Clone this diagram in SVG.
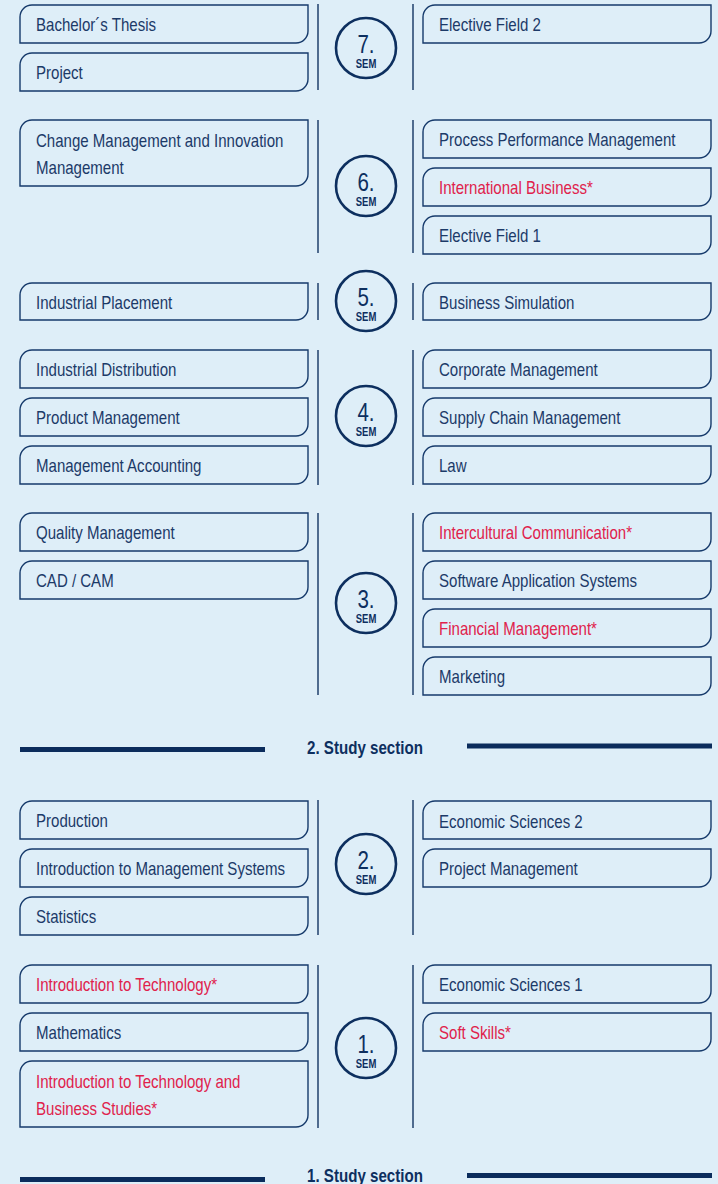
<svg xmlns="http://www.w3.org/2000/svg" width="718" height="1184" viewBox="0 0 718 1184">
<style>
.bx{fill:none;stroke:#163a6b;stroke-width:1.4}
.t{font-family:"Liberation Sans",Arial,sans-serif;font-size:18.8px;fill:#1c3a68}
.r{fill:#e0224c}
.vl{stroke:#2b4a74;stroke-width:1.6}
.c{fill:none;stroke:#0d2f5f;stroke-width:2.6}
.n{font-family:"Liberation Sans",Arial,sans-serif;font-size:25px;fill:#0d2f5f;text-anchor:middle}
.s{font-family:"Liberation Sans",Arial,sans-serif;font-size:12.5px;fill:#0d2f5f;text-anchor:middle;font-weight:bold}
.sec{font-family:"Liberation Sans",Arial,sans-serif;font-size:18px;fill:#0d2f5f;text-anchor:middle;font-weight:bold}
.bar{fill:#0b2c5c}
</style>
<rect width="718" height="1184" fill="#deeef8"/>
<g id="connectors">
<line class="vl" x1="318" y1="4" x2="318" y2="90"/><line class="vl" x1="413" y1="4" x2="413" y2="90"/>
<line class="vl" x1="318" y1="120" x2="318" y2="253"/><line class="vl" x1="413" y1="120" x2="413" y2="253"/>
<line class="vl" x1="318" y1="283" x2="318" y2="320"/><line class="vl" x1="413" y1="283" x2="413" y2="320"/>
<line class="vl" x1="318" y1="350" x2="318" y2="485"/><line class="vl" x1="413" y1="350" x2="413" y2="485"/>
<line class="vl" x1="318" y1="513" x2="318" y2="695"/><line class="vl" x1="413" y1="513" x2="413" y2="695"/>
<line class="vl" x1="318" y1="800" x2="318" y2="935"/><line class="vl" x1="413" y1="800" x2="413" y2="935"/>
<line class="vl" x1="318" y1="965" x2="318" y2="1128"/><line class="vl" x1="413" y1="965" x2="413" y2="1128"/>
</g>
<g id="sem7">
<g id="n-thesis"><path class="bx" d="M20,43 V17 A12,12 0 0 1 32,5 H308 V31 A12,12 0 0 1 296,43 Z"/><text class="t" transform="translate(36,31) scale(0.8,1)">Bachelor´s Thesis</text></g>
<g id="n-project"><path class="bx" d="M20,91 V65 A12,12 0 0 1 32,53 H308 V79 A12,12 0 0 1 296,91 Z"/><text class="t" transform="translate(36,79) scale(0.8,1)">Project</text></g>
<g id="c7"><circle class="c" cx="366" cy="48" r="30"/><text class="n" transform="translate(366,53) scale(0.82,1)">7.</text><text class="s" transform="translate(366,68) scale(0.76,1)">SEM</text></g>
<g id="n-ef2"><path class="bx" d="M423,43 V17 A12,12 0 0 1 435,5 H711 V31 A12,12 0 0 1 699,43 Z"/><text class="t" transform="translate(439,31) scale(0.8,1)">Elective Field 2</text></g>
</g>
<g id="sem6">
<g id="n-change"><path class="bx" d="M20,186 V132 A12,12 0 0 1 32,120 H308 V174 A12,12 0 0 1 296,186 Z"/><text class="t" transform="translate(36,147) scale(0.8,1)">Change Management and Innovation</text><text class="t" transform="translate(36,174) scale(0.8,1)">Management</text></g>
<g id="c6"><circle class="c" cx="366" cy="186" r="30"/><text class="n" transform="translate(366,191) scale(0.82,1)">6.</text><text class="s" transform="translate(366,206) scale(0.76,1)">SEM</text></g>
<g id="n-ppm"><path class="bx" d="M423,158 V132 A12,12 0 0 1 435,120 H711 V146 A12,12 0 0 1 699,158 Z"/><text class="t" transform="translate(439,146) scale(0.8,1)">Process Performance Management</text></g>
<g id="n-ib"><path class="bx" d="M423,206 V180 A12,12 0 0 1 435,168 H711 V194 A12,12 0 0 1 699,206 Z"/><text class="t r" transform="translate(439,194) scale(0.8,1)">International Business*</text></g>
<g id="n-ef1"><path class="bx" d="M423,254 V228 A12,12 0 0 1 435,216 H711 V242 A12,12 0 0 1 699,254 Z"/><text class="t" transform="translate(439,242) scale(0.8,1)">Elective Field 1</text></g>
</g>
<g id="sem5">
<g id="n-ip"><path class="bx" d="M20,320 V295 A12,12 0 0 1 32,283 H308 V308 A12,12 0 0 1 296,320 Z"/><text class="t" transform="translate(36,309) scale(0.8,1)">Industrial Placement</text></g>
<g id="c5"><circle class="c" cx="366" cy="301" r="30"/><text class="n" transform="translate(366,306) scale(0.82,1)">5.</text><text class="s" transform="translate(366,321) scale(0.76,1)">SEM</text></g>
<g id="n-bs"><path class="bx" d="M423,320 V295 A12,12 0 0 1 435,283 H711 V308 A12,12 0 0 1 699,320 Z"/><text class="t" transform="translate(439,309) scale(0.8,1)">Business Simulation</text></g>
</g>
<g id="sem4">
<g id="n-id"><path class="bx" d="M20,388 V362 A12,12 0 0 1 32,350 H308 V376 A12,12 0 0 1 296,388 Z"/><text class="t" transform="translate(36,376) scale(0.8,1)">Industrial Distribution</text></g>
<g id="n-pm"><path class="bx" d="M20,436 V410 A12,12 0 0 1 32,398 H308 V424 A12,12 0 0 1 296,436 Z"/><text class="t" transform="translate(36,424) scale(0.8,1)">Product Management</text></g>
<g id="n-ma"><path class="bx" d="M20,484 V458 A12,12 0 0 1 32,446 H308 V472 A12,12 0 0 1 296,484 Z"/><text class="t" transform="translate(36,472) scale(0.8,1)">Management Accounting</text></g>
<g id="c4"><circle class="c" cx="366" cy="416" r="30"/><text class="n" transform="translate(366,421) scale(0.82,1)">4.</text><text class="s" transform="translate(366,436) scale(0.76,1)">SEM</text></g>
<g id="n-cm"><path class="bx" d="M423,388 V362 A12,12 0 0 1 435,350 H711 V376 A12,12 0 0 1 699,388 Z"/><text class="t" transform="translate(439,376) scale(0.8,1)">Corporate Management</text></g>
<g id="n-scm"><path class="bx" d="M423,436 V410 A12,12 0 0 1 435,398 H711 V424 A12,12 0 0 1 699,436 Z"/><text class="t" transform="translate(439,424) scale(0.8,1)">Supply Chain Management</text></g>
<g id="n-law"><path class="bx" d="M423,484 V458 A12,12 0 0 1 435,446 H711 V472 A12,12 0 0 1 699,484 Z"/><text class="t" transform="translate(439,472) scale(0.8,1)">Law</text></g>
</g>
<g id="sem3">
<g id="n-qm"><path class="bx" d="M20,551 V525 A12,12 0 0 1 32,513 H308 V539 A12,12 0 0 1 296,551 Z"/><text class="t" transform="translate(36,539) scale(0.8,1)">Quality Management</text></g>
<g id="n-cad"><path class="bx" d="M20,599 V573 A12,12 0 0 1 32,561 H308 V587 A12,12 0 0 1 296,599 Z"/><text class="t" transform="translate(36,587) scale(0.8,1)">CAD / CAM</text></g>
<g id="c3"><circle class="c" cx="366" cy="603" r="30"/><text class="n" transform="translate(366,608) scale(0.82,1)">3.</text><text class="s" transform="translate(366,623) scale(0.76,1)">SEM</text></g>
<g id="n-ic"><path class="bx" d="M423,551 V525 A12,12 0 0 1 435,513 H711 V539 A12,12 0 0 1 699,551 Z"/><text class="t r" transform="translate(439,539) scale(0.8,1)">Intercultural Communication*</text></g>
<g id="n-sas"><path class="bx" d="M423,599 V573 A12,12 0 0 1 435,561 H711 V587 A12,12 0 0 1 699,599 Z"/><text class="t" transform="translate(439,587) scale(0.8,1)">Software Application Systems</text></g>
<g id="n-fm"><path class="bx" d="M423,647 V621 A12,12 0 0 1 435,609 H711 V635 A12,12 0 0 1 699,647 Z"/><text class="t r" transform="translate(439,635) scale(0.8,1)">Financial Management*</text></g>
<g id="n-mk"><path class="bx" d="M423,695 V669 A12,12 0 0 1 435,657 H711 V683 A12,12 0 0 1 699,695 Z"/><text class="t" transform="translate(439,683) scale(0.8,1)">Marketing</text></g>
</g>
<g id="section2">
<rect class="bar" x="20" y="747" width="245" height="5"/>
<rect class="bar" x="467" y="743.5" width="245" height="5"/>
<text class="sec" transform="translate(365,754) scale(0.84,1)">2. Study section</text>
</g>
<g id="sem2">
<g id="n-prod"><path class="bx" d="M20,839 V813 A12,12 0 0 1 32,801 H308 V827 A12,12 0 0 1 296,839 Z"/><text class="t" transform="translate(36,827) scale(0.8,1)">Production</text></g>
<g id="n-ims"><path class="bx" d="M20,887 V861 A12,12 0 0 1 32,849 H308 V875 A12,12 0 0 1 296,887 Z"/><text class="t" transform="translate(36,875) scale(0.8,1)">Introduction to Management Systems</text></g>
<g id="n-stat"><path class="bx" d="M20,935 V909 A12,12 0 0 1 32,897 H308 V923 A12,12 0 0 1 296,935 Z"/><text class="t" transform="translate(36,923) scale(0.8,1)">Statistics</text></g>
<g id="c2"><circle class="c" cx="366" cy="864" r="30"/><text class="n" transform="translate(366,869) scale(0.82,1)">2.</text><text class="s" transform="translate(366,884) scale(0.76,1)">SEM</text></g>
<g id="n-es2"><path class="bx" d="M423,839 V813 A12,12 0 0 1 435,801 H711 V827 A12,12 0 0 1 699,839 Z"/><text class="t" transform="translate(439,828) scale(0.8,1)">Economic Sciences 2</text></g>
<g id="n-prm"><path class="bx" d="M423,887 V861 A12,12 0 0 1 435,849 H711 V875 A12,12 0 0 1 699,887 Z"/><text class="t" transform="translate(439,875) scale(0.8,1)">Project Management</text></g>
</g>
<g id="sem1">
<g id="n-itt"><path class="bx" d="M20,1003 V977 A12,12 0 0 1 32,965 H308 V991 A12,12 0 0 1 296,1003 Z"/><text class="t r" transform="translate(36,991) scale(0.8,1)">Introduction to Technology*</text></g>
<g id="n-math"><path class="bx" d="M20,1051 V1025 A12,12 0 0 1 32,1013 H308 V1039 A12,12 0 0 1 296,1051 Z"/><text class="t" transform="translate(36,1039) scale(0.8,1)">Mathematics</text></g>
<g id="n-ittbs"><path class="bx" d="M20,1127 V1073 A12,12 0 0 1 32,1061 H308 V1115 A12,12 0 0 1 296,1127 Z"/><text class="t r" transform="translate(36,1088) scale(0.8,1)">Introduction to Technology and</text><text class="t r" transform="translate(36,1115) scale(0.8,1)">Business Studies*</text></g>
<g id="c1"><circle class="c" cx="366" cy="1048" r="30"/><text class="n" transform="translate(366,1053) scale(0.82,1)">1.</text><text class="s" transform="translate(366,1068) scale(0.76,1)">SEM</text></g>
<g id="n-es1"><path class="bx" d="M423,1003 V977 A12,12 0 0 1 435,965 H711 V991 A12,12 0 0 1 699,1003 Z"/><text class="t" transform="translate(439,991) scale(0.8,1)">Economic Sciences 1</text></g>
<g id="n-ss"><path class="bx" d="M423,1051 V1025 A12,12 0 0 1 435,1013 H711 V1039 A12,12 0 0 1 699,1051 Z"/><text class="t r" transform="translate(439,1039) scale(0.8,1)">Soft Skills*</text></g>
</g>
<g id="section1">
<rect class="bar" x="20" y="1177" width="245" height="5"/>
<rect class="bar" x="467" y="1173" width="245" height="5"/>
<text class="sec" transform="translate(365,1182) scale(0.84,1)">1. Study section</text>
</g>
</svg>
